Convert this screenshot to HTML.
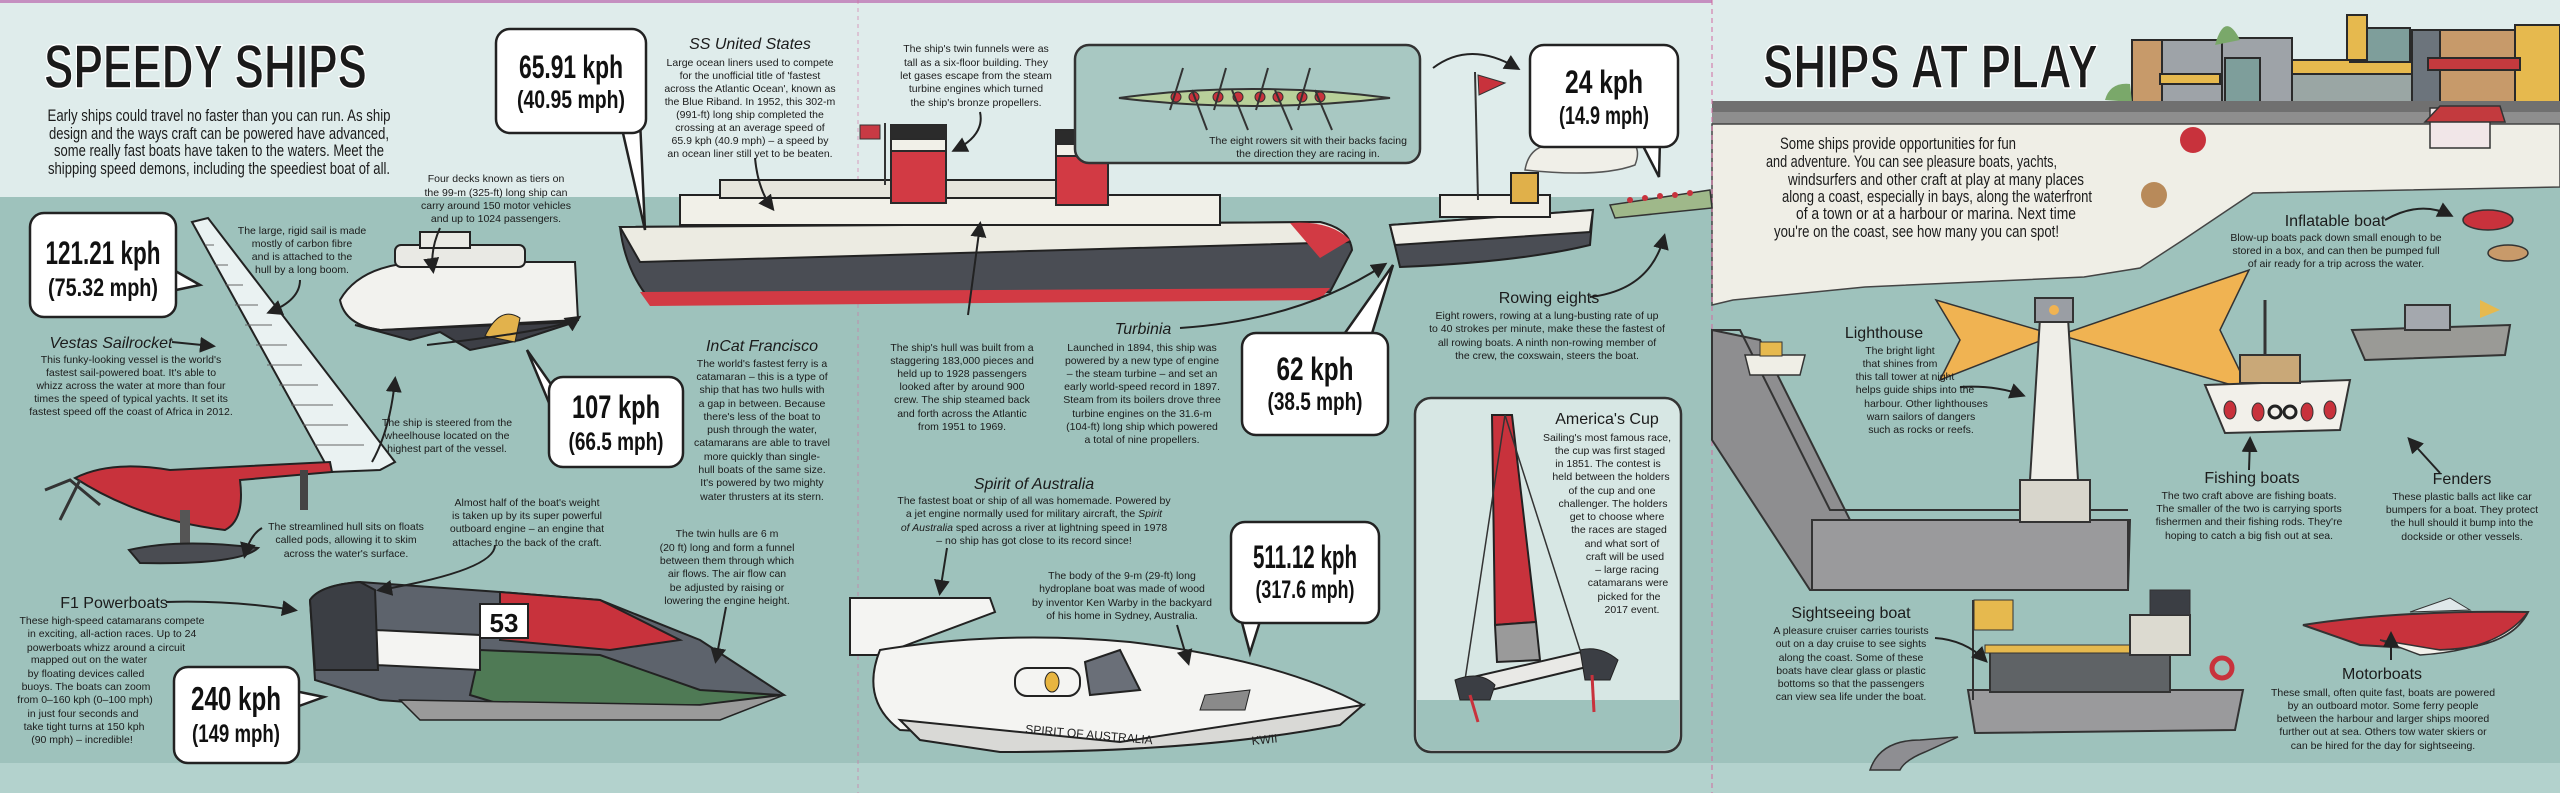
<!DOCTYPE html>
<html><head><meta charset="utf-8"><style>
html,body{margin:0;padding:0;background:#dfeceb;}
svg{display:block}
.t{font-family:"Liberation Sans Narrow","Liberation Sans",sans-serif;font-size:10.5px;fill:#1b1b1b;text-anchor:middle}
.h{font-family:"Liberation Sans Narrow","Liberation Sans",sans-serif;font-size:16px;fill:#1b1b1b;text-anchor:middle;font-style:italic}
.hn{font-family:"Liberation Sans Narrow","Liberation Sans",sans-serif;font-size:16px;fill:#1b1b1b;text-anchor:middle}
.b{font-family:"Liberation Sans Narrow","Liberation Sans",sans-serif;font-weight:bold;fill:#111;text-anchor:middle}
.i{font-family:"Liberation Sans Narrow","Liberation Sans",sans-serif;font-size:17px;fill:#1b1b1b}
.ttl{font-family:"Liberation Sans Narrow","Liberation Sans",sans-serif;font-weight:bold;font-size:62px;fill:#1a1a1a;stroke:#fff;stroke-width:1.5}
.bub{fill:#fff;stroke:#222;stroke-width:2.5}
.ln{fill:none;stroke:#222;stroke-width:2}
.s{stroke:#2a2a2a;stroke-width:2}
</style></head><body>
<svg width="2560" height="793" viewBox="0 0 2560 793" xmlns="http://www.w3.org/2000/svg">
<defs>
<marker id="ah" markerWidth="8" markerHeight="8" refX="6" refY="4" orient="auto"><path d="M0,0 L8,4 L0,8 Z" fill="#222"/></marker>
</defs>
<rect x="0" y="0" width="2560" height="793" fill="#9ec2bc"/>
<rect x="0" y="0" width="1712" height="197" fill="#dfeceb"/>
<rect x="0" y="763" width="1712" height="30" fill="#b3d2cd"/>
<rect x="1712" y="763" width="848" height="30" fill="#b3d2cd"/>
<rect x="0" y="0" width="2560" height="3" fill="#c58fc0"/>
<rect x="1712" y="0" width="848" height="102" fill="#dfeceb"/>
<g class="s">
<rect x="2132" y="40" width="30" height="62" fill="#c79a6a"/>
<rect x="2162" y="40" width="60" height="62" fill="#9ea3a8"/>
<rect x="2222" y="38" width="70" height="64" fill="#9ea3a8"/>
<rect x="2225" y="58" width="35" height="44" fill="#7e9e9b"/>
<rect x="2292" y="60" width="120" height="42" fill="#9aa6a4"/>
<rect x="2292" y="60" width="120" height="14" fill="#e6b94e"/>
<rect x="2350" y="28" width="60" height="34" fill="#7e9e9b"/>
<rect x="2347" y="15" width="20" height="45" fill="#e6b94e"/>
<rect x="2412" y="30" width="28" height="72" fill="#6c747c"/>
<rect x="2440" y="30" width="75" height="72" fill="#c79a6a"/>
<rect x="2515" y="25" width="45" height="77" fill="#e6b94e"/>
<rect x="2160" y="74" width="60" height="10" fill="#e6b94e"/>
<rect x="2428" y="58" width="92" height="12" fill="#c33a3e"/>
</g>
<path d="M2105,100 Q2110,82 2130,84 L2132,102 Z" fill="#7aa86a"/>
<path d="M2215,45 Q2225,10 2240,40 Z" fill="#7aa86a"/>
<rect x="1712" y="101" width="848" height="11" fill="#707070"/>
<rect x="1712" y="112" width="848" height="12" fill="#8e8e8e"/>
<path d="M1712,124 L2560,124 L2560,187 L2253,193 L2183,240 L2140,268 L2084,277 L1865,287 L1733,300 L1712,305 Z" fill="#efeee6" stroke="#444" stroke-width="1.5"/>
<rect x="2430" y="108" width="60" height="40" fill="#f1e6e8" stroke="#333" stroke-width="1.5"/>
<path d="M2425,122 L2440,106 L2500,106 L2505,122 Z" fill="#c33a3e" stroke="#333" stroke-width="1.5"/>
<circle cx="2193" cy="140" r="13" fill="#c8323c"/>
<circle cx="2154" cy="195" r="13" fill="#b88a5a"/>
<line x1="1712" y1="0" x2="1712" y2="793" stroke="#d26aa0" stroke-width="1" stroke-dasharray="5,4"/>
<line x1="858" y1="0" x2="858" y2="793" stroke="#d26aa0" stroke-width="1" stroke-dasharray="4,4" opacity="0.6"/>

<text class="ttl" x="44" y="88" textLength="323" lengthAdjust="spacingAndGlyphs">SPEEDY SHIPS</text>
<text class="ttl" x="1763" y="88" textLength="335" lengthAdjust="spacingAndGlyphs">SHIPS AT PLAY</text>

<g class="i">
<text x="219" y="121" textLength="343" lengthAdjust="spacingAndGlyphs" text-anchor="middle">Early ships could travel no faster than you can run. As ship</text>
<text x="219" y="139" textLength="340" lengthAdjust="spacingAndGlyphs" text-anchor="middle">design and the ways craft can be powered have advanced,</text>
<text x="219" y="156" textLength="330" lengthAdjust="spacingAndGlyphs" text-anchor="middle">some really fast boats have taken to the waters. Meet the</text>
<text x="219" y="174" textLength="342" lengthAdjust="spacingAndGlyphs" text-anchor="middle">shipping speed demons, including the speediest boat of all.</text>
</g>
<g class="i">
<text x="1780" y="149" textLength="236" lengthAdjust="spacingAndGlyphs">Some ships provide opportunities for fun</text>
<text x="1766" y="167" textLength="291" lengthAdjust="spacingAndGlyphs">and adventure. You can see pleasure boats, yachts,</text>
<text x="1788" y="185" textLength="296" lengthAdjust="spacingAndGlyphs">windsurfers and other craft at play at many places</text>
<text x="1782" y="202" textLength="310" lengthAdjust="spacingAndGlyphs">along a coast, especially in bays, along the waterfront</text>
<text x="1796" y="219" textLength="280" lengthAdjust="spacingAndGlyphs">of a town or at a harbour or marina. Next time</text>
<text x="1774" y="237" textLength="285" lengthAdjust="spacingAndGlyphs">you're on the coast, see how many you can spot!</text>
</g>

<path d="M620,227 L1320,222 Q1350,230 1352,250 L1330,292 L650,300 Q625,270 620,227 Z" fill="#4a4d54" stroke="#222" stroke-width="2"/>
<path d="M640,292 L1330,288 L1320,300 L650,306 Z" fill="#d23a44"/>
<path d="M620,227 L1320,222 Q1345,228 1350,242 L640,262 Z" fill="#ecebe2" stroke="#222" stroke-width="2"/>
<rect x="680" y="195" width="540" height="30" fill="#f1f0e8" stroke="#222" stroke-width="2"/>
<rect x="720" y="180" width="380" height="18" fill="#e6e5dc" stroke="#222" stroke-width="2"/>
<path d="M1290,223 Q1330,220 1350,240 L1320,258 Z" fill="#d23a44"/>
<g class="s">
<rect x="891" y="135" width="55" height="68" fill="#d23a44"/>
<rect x="891" y="125" width="55" height="14" fill="#2b2b2b"/>
<rect x="891" y="139" width="55" height="12" fill="#f1f0e8"/>
<rect x="1056" y="140" width="52" height="65" fill="#d23a44"/>
<rect x="1056" y="130" width="52" height="14" fill="#2b2b2b"/>
<rect x="1056" y="144" width="52" height="12" fill="#f1f0e8"/>
</g>
<line x1="885" y1="123" x2="885" y2="185" stroke="#333" stroke-width="2"/>
<rect x="860" y="125" width="20" height="14" fill="#c83a44" stroke="#333"/>

<rect x="1075" y="45" width="345" height="118" rx="14" fill="#a8c8c2" stroke="#333" stroke-width="2.5"/>
<path d="M1119,98 Q1250,80 1390,98 Q1250,114 1119,98 Z" fill="#b8d09a" stroke="#333" stroke-width="2"/>
<g fill="#c8323c" stroke="#333" stroke-width="1">
<circle cx="1176" cy="97" r="5"/><circle cx="1194" cy="97" r="5"/><circle cx="1218" cy="97" r="5"/><circle cx="1238" cy="97" r="5"/><circle cx="1260" cy="97" r="5"/><circle cx="1278" cy="97" r="5"/><circle cx="1302" cy="97" r="5"/><circle cx="1320" cy="97" r="5"/>
</g>
<g stroke="#333" stroke-width="2"><line x1="1183" y1="68" x2="1170" y2="110"/><line x1="1226" y1="68" x2="1214" y2="110"/><line x1="1268" y1="68" x2="1256" y2="110"/><line x1="1310" y1="68" x2="1298" y2="110"/><line x1="1192" y1="90" x2="1207" y2="130"/><line x1="1232" y1="90" x2="1248" y2="130"/><line x1="1275" y1="90" x2="1292" y2="130"/><line x1="1315" y1="90" x2="1332" y2="130"/></g>
<text class="t" x="1308" y="144">The eight rowers sit with their backs facing</text>
<text class="t" x="1308" y="157">the direction they are racing in.</text>

<path d="M1390,225 L1593,210 L1590,245 Q1520,262 1400,267 Z" fill="#4a4d54" stroke="#222" stroke-width="2"/>
<path d="M1390,225 L1593,210 L1590,232 L1395,245 Z" fill="#f0efe8" stroke="#222" stroke-width="2"/>
<rect x="1440" y="195" width="110" height="22" fill="#f0efe8" stroke="#222" stroke-width="2"/>
<rect x="1511" y="173" width="27" height="30" fill="#e0b04a" stroke="#222" stroke-width="2"/>
<line x1="1475" y1="72" x2="1478" y2="200" stroke="#333" stroke-width="2"/>
<path d="M1478,75 L1505,83 L1479,95 Z" fill="#c8323c" stroke="#333"/>
<path d="M1525,170 Q1530,140 1565,145 Q1580,125 1615,135 Q1645,140 1635,165 Q1600,178 1525,170 Z" fill="#f0efe8" stroke="#555" stroke-width="1.5"/>
<path d="M1610,205 L1710,190 L1712,208 L1615,218 Z" fill="#9fb88a" stroke="#333" stroke-width="1.5"/>
<g fill="#c8323c"><circle cx="1630" cy="200" r="3"/><circle cx="1645" cy="198" r="3"/><circle cx="1660" cy="196" r="3"/><circle cx="1675" cy="195" r="3"/><circle cx="1690" cy="193" r="3"/></g>

<path d="M340,300 Q360,265 420,262 L575,262 L578,320 L380,330 Q345,325 340,300 Z" fill="#f2f2ee" stroke="#222" stroke-width="2"/>
<path d="M355,325 L410,340 L440,332 L470,350 L520,340 L575,322 L380,330 Z" fill="#3d3f46" stroke="#222" stroke-width="2"/>
<path d="M485,336 Q500,305 520,318 L515,342 Z" fill="#e2b24c" stroke="#222"/>
<rect x="395" y="245" width="130" height="22" rx="6" fill="#e9e9e4" stroke="#222" stroke-width="2"/>
<rect x="420" y="232" width="50" height="16" fill="#e9e9e4" stroke="#222" stroke-width="2"/>

<path d="M192,222 L208,218 L395,462 L380,470 L330,472 Z" fill="#eaf2f2" stroke="#222" stroke-width="2"/>
<g stroke="#666" stroke-width="1"><line x1="205" y1="245" x2="214" y2="245"/><line x1="215" y1="265" x2="228" y2="265"/><line x1="225" y1="285" x2="243" y2="285"/><line x1="235" y1="305" x2="258" y2="305"/><line x1="245" y1="325" x2="272" y2="325"/><line x1="256" y1="345" x2="287" y2="345"/><line x1="267" y1="365" x2="302" y2="365"/><line x1="279" y1="385" x2="318" y2="385"/><line x1="291" y1="405" x2="333" y2="405"/><line x1="303" y1="425" x2="348" y2="425"/><line x1="315" y1="445" x2="364" y2="445"/></g>
<path d="M75,478 Q110,460 170,470 L330,462 L332,472 L240,480 Q245,520 225,530 Q140,520 75,478 Z" fill="#c8323c" stroke="#222" stroke-width="2"/>
<path d="M45,490 L70,480 L100,505 M80,480 L60,520" stroke="#333" stroke-width="3" fill="none"/>
<rect x="180" y="510" width="10" height="40" fill="#555"/>
<rect x="300" y="470" width="8" height="40" fill="#444"/>
<path d="M129,550 Q180,538 258,548 Q240,565 140,563 Z" fill="#4a4c52" stroke="#222" stroke-width="2"/>

<path d="M310,600 Q320,585 360,582 L500,592 L600,600 L700,640 L784,695 L700,705 L520,710 L380,700 L315,680 Z" fill="#5d636c" stroke="#222" stroke-width="2"/>
<path d="M500,592 L600,600 L680,640 L610,650 L500,640 Z" fill="#c8323c" stroke="#222" stroke-width="2"/>
<path d="M480,650 L600,655 L700,690 L780,695 L700,705 L520,710 L470,695 Z" fill="#4f7a55" stroke="#222" stroke-width="2"/>
<path d="M375,630 L480,635 L480,670 L375,665 Z" fill="#f4f4f2" stroke="#222" stroke-width="2"/>
<path d="M310,600 Q320,585 360,582 L375,590 L378,670 L315,670 Z" fill="#3b3e44" stroke="#222" stroke-width="2"/>
<rect x="480" y="604" width="48" height="34" fill="#fff" stroke="#222" stroke-width="2"/>
<text class="b" x="504" y="632" font-size="26">53</text>
<path d="M400,700 L700,705 L784,695 L720,720 L420,720 Z" fill="#9a9a9a" stroke="#222" stroke-width="1.5"/>

<path d="M850,598 L990,598 L995,612 L880,655 L850,655 Z" fill="#f4f4f2" stroke="#222" stroke-width="2"/>
<path d="M880,650 Q1000,630 1130,642 Q1280,660 1363,705 Q1280,735 1120,742 L900,730 Q860,700 880,650 Z" fill="#f4f4f2" stroke="#222" stroke-width="2"/>
<path d="M900,720 L1120,742 L1363,705 L1340,725 Q1200,752 1000,752 L920,740 Z" fill="#d9d9d6" stroke="#222" stroke-width="2"/>
<rect x="1015" y="668" width="65" height="28" rx="12" fill="#f4f4f2" stroke="#222" stroke-width="2"/>
<ellipse cx="1052" cy="682" rx="7" ry="10" fill="#e8b540" stroke="#222"/>
<path d="M1085,662 L1120,650 L1140,690 L1090,695 Z" fill="#6a6f78" stroke="#222" stroke-width="2"/>
<path d="M1205,695 L1250,690 L1245,710 L1200,710 Z" fill="#8a8a8a" stroke="#222"/>
<text x="1025" y="733" font-family="Liberation Sans" font-size="12" fill="#222" transform="rotate(5 1025 733)">SPIRIT OF AUSTRALIA</text>
<text x="1252" y="745" font-family="Liberation Sans" font-size="12" fill="#222" transform="rotate(-6 1252 745)">KWII</text>

<rect x="1415" y="398" width="266" height="354" rx="16" fill="#d7e7e4" stroke="#333" stroke-width="2.5"/>
<path d="M1417,700 L1679,700 L1679,736 Q1679,750 1665,750 L1431,750 Q1417,750 1417,736 Z" fill="#9ec2bc"/>
<path d="M1492,415 L1512,415 L1536,622 L1495,625 Z" fill="#c8323c" stroke="#222" stroke-width="2"/>
<path d="M1495,625 L1536,622 L1540,660 L1497,662 Z" fill="#9a9a9a" stroke="#222" stroke-width="2"/>
<line x1="1505" y1="415" x2="1465" y2="680" stroke="#333" stroke-width="1.5"/>
<line x1="1505" y1="415" x2="1580" y2="650" stroke="#333" stroke-width="1.5"/>
<path d="M1460,680 L1590,650 L1595,665 L1470,695 Z" fill="#e9e9e6" stroke="#222" stroke-width="2"/>
<path d="M1455,680 Q1480,670 1495,685 L1490,700 L1460,700 Z" fill="#3b3e44" stroke="#222"/>
<path d="M1580,650 Q1600,645 1618,660 L1610,680 L1585,680 Z" fill="#3b3e44" stroke="#222"/>
<line x1="1470" y1="695" x2="1478" y2="722" stroke="#c8323c" stroke-width="3"/>
<line x1="1592" y1="675" x2="1594" y2="712" stroke="#c8323c" stroke-width="3"/>

<path d="M2055,335 L1936,300 L1960,340 L1940,380 Z" fill="#f0b352" stroke="#333" stroke-width="1.5"/>
<path d="M2060,335 L2249,270 L2220,330 L2249,390 Z" fill="#f0b352" stroke="#333" stroke-width="1.5"/>
<path d="M1712,330 L1760,340 L1850,520 L2130,520 L2128,590 L1810,590 L1712,440 Z" fill="#8e8e90" stroke="#333" stroke-width="2"/>
<path d="M1712,330 L1740,330 L1830,510 L2128,510" fill="none" stroke="#333" stroke-width="2"/>
<rect x="1812" y="520" width="316" height="70" fill="#9a9a9c" stroke="#333" stroke-width="2"/>
<path d="M2040,318 L2068,318 L2078,480 L2030,480 Z" fill="#efeee8" stroke="#333" stroke-width="2"/>
<rect x="2035" y="298" width="38" height="24" fill="#9a9ea4" stroke="#333" stroke-width="2"/>
<circle cx="2054" cy="310" r="5" fill="#f0b352"/>
<rect x="2020" y="480" width="70" height="42" fill="#d8d6cc" stroke="#333" stroke-width="2"/>
<path d="M1745,355 L1805,355 L1800,375 L1750,375 Z" fill="#efeee6" stroke="#333" stroke-width="1.5"/>
<rect x="1760" y="342" width="22" height="14" fill="#e6b94e" stroke="#333"/>

<path d="M2205,385 L2350,380 L2340,430 L2225,433 Z" fill="#f2f0ea" stroke="#333" stroke-width="2"/>
<rect x="2240" y="355" width="60" height="28" fill="#c9a878" stroke="#333" stroke-width="2"/>
<line x1="2265" y1="300" x2="2265" y2="356" stroke="#333" stroke-width="3"/>
<g fill="#c8323c" stroke="#333"><ellipse cx="2230" cy="410" rx="6" ry="9"/><ellipse cx="2258" cy="412" rx="6" ry="9"/><ellipse cx="2307" cy="412" rx="6" ry="9"/><ellipse cx="2330" cy="410" rx="6" ry="9"/></g>
<g fill="none" stroke="#222" stroke-width="3"><circle cx="2275" cy="412" r="6"/><circle cx="2290" cy="412" r="6"/></g>
<path d="M2352,330 L2510,325 L2505,355 L2365,360 Z" fill="#9a9a96" stroke="#333" stroke-width="2"/>
<rect x="2405" y="305" width="45" height="25" fill="#a4a8ae" stroke="#333" stroke-width="2"/>
<path d="M2480,300 L2500,310 L2480,318 Z" fill="#e6b94e"/>
<ellipse cx="2488" cy="220" rx="25" ry="10" fill="#c8323c" stroke="#333" stroke-width="1.5"/>
<ellipse cx="2508" cy="253" rx="20" ry="8" fill="#c89a6a" stroke="#333" stroke-width="1.5"/>

<path d="M1968,690 L2243,690 L2235,730 L1975,733 Z" fill="#9a9a9c" stroke="#333" stroke-width="2"/>
<rect x="1990" y="650" width="180" height="42" fill="#5f6366" stroke="#333" stroke-width="2"/>
<rect x="1985" y="645" width="190" height="8" fill="#e6b94e" stroke="#333"/>
<rect x="2130" y="615" width="60" height="40" fill="#dcdad0" stroke="#333" stroke-width="2"/>
<rect x="2150" y="590" width="40" height="25" fill="#3b3e44" stroke="#333"/>
<circle cx="2222" cy="668" r="10" fill="none" stroke="#c8323c" stroke-width="5"/>
<line x1="1973" y1="600" x2="1973" y2="700" stroke="#333" stroke-width="2"/>
<path d="M1974,600 L2013,600 L2013,630 L1974,630 Z" fill="#e6b94e" stroke="#333"/>
<path d="M2303,625 Q2400,610 2528,612 Q2510,648 2440,650 L2360,645 Z" fill="#c8323c" stroke="#333" stroke-width="2"/>
<path d="M2380,640 L2440,650 Q2510,648 2528,612 Q2500,650 2420,655 Z" fill="#f2f0ea" stroke="#333" stroke-width="1.5"/>
<path d="M2410,612 L2450,598 L2470,610 Z" fill="#dfe8ea" stroke="#333"/>
<path d="M1870,770 Q1880,740 1920,740 L1958,737 L1925,752 Q1905,760 1900,770 Z" fill="#8e8e92" stroke="#333" stroke-width="1.5"/>

<!-- bubbles -->
<polygon class="bub" points="620,120 640,120 645,230"/>
<rect class="bub" x="496" y="29" width="150" height="104" rx="14"/>
<text class="b" x="571" y="78" font-size="32" textLength="104" lengthAdjust="spacingAndGlyphs">65.91 kph</text>
<text class="b" x="571" y="108" font-size="25" textLength="108" lengthAdjust="spacingAndGlyphs">(40.95 mph)</text>

<polygon class="bub" points="170,268 176,290 200,285"/>
<rect class="bub" x="30" y="213" width="146" height="104" rx="14"/>
<text class="b" x="103" y="264" font-size="32" textLength="115" lengthAdjust="spacingAndGlyphs">121.21 kph</text>
<text class="b" x="103" y="296" font-size="25" textLength="110" lengthAdjust="spacingAndGlyphs">(75.32 mph)</text>

<polygon class="bub" points="555,390 552,410 527,350"/>
<rect class="bub" x="549" y="377" width="134" height="90" rx="14"/>
<text class="b" x="616" y="418" font-size="32" textLength="88" lengthAdjust="spacingAndGlyphs">107 kph</text>
<text class="b" x="616" y="450" font-size="25" textLength="95" lengthAdjust="spacingAndGlyphs">(66.5 mph)</text>

<polygon class="bub" points="290,690 299,706 324,697"/>
<rect class="bub" x="174" y="667" width="125" height="96" rx="14"/>
<text class="b" x="236" y="710" font-size="33" textLength="90" lengthAdjust="spacingAndGlyphs">240 kph</text>
<text class="b" x="236" y="742" font-size="25" textLength="88" lengthAdjust="spacingAndGlyphs">(149 mph)</text>

<polygon class="bub" points="1640,140 1660,140 1659,177"/>
<rect class="bub" x="1530" y="45" width="148" height="102" rx="14"/>
<text class="b" x="1604" y="93" font-size="32" textLength="78" lengthAdjust="spacingAndGlyphs">24 kph</text>
<text class="b" x="1604" y="124" font-size="25" textLength="90" lengthAdjust="spacingAndGlyphs">(14.9 mph)</text>

<polygon class="bub" points="1340,340 1370,340 1393,265"/>
<rect class="bub" x="1242" y="333" width="146" height="102" rx="14"/>
<text class="b" x="1315" y="380" font-size="32" textLength="77" lengthAdjust="spacingAndGlyphs">62 kph</text>
<text class="b" x="1315" y="410" font-size="25" textLength="95" lengthAdjust="spacingAndGlyphs">(38.5 mph)</text>

<polygon class="bub" points="1240,615 1262,615 1250,653"/>
<rect class="bub" x="1231" y="522" width="148" height="101" rx="14"/>
<text class="b" x="1305" y="568" font-size="32" textLength="104" lengthAdjust="spacingAndGlyphs">511.12 kph</text>
<text class="b" x="1305" y="598" font-size="25" textLength="99" lengthAdjust="spacingAndGlyphs">(317.6 mph)</text>

<g class="ln" marker-end="url(#ah)">
<path d="M755,158 Q758,190 772,208"/>
<path d="M440,228 Q430,250 433,270"/>
<path d="M300,280 Q300,300 270,312"/>
<path d="M172,342 L212,346"/>
<path d="M372,462 Q390,430 395,380"/>
<path d="M427,345 Q560,330 578,318"/>
<path d="M262,528 Q250,535 245,555"/>
<path d="M495,545 Q495,570 380,590"/>
<path d="M166,602 Q230,600 294,610"/>
<path d="M726,607 L716,660"/>
<path d="M980,112 Q985,135 955,150"/>
<path d="M968,315 L980,225"/>
<path d="M1180,328 Q1300,320 1384,265"/>
<path d="M1590,297 Q1650,290 1664,237"/>
<path d="M1433,68 Q1470,40 1517,68"/>
<path d="M947,548 L940,592"/>
<path d="M1177,625 L1188,662"/>
<path d="M2385,220 Q2420,200 2450,215"/>
<path d="M1960,387 Q1995,385 2022,395"/>
<path d="M1935,638 Q1965,640 1985,660"/>
<path d="M2249,470 L2250,440"/>
<path d="M2440,473 L2410,440"/>
<path d="M2391,660 L2391,635"/>
</g>

<text class="h" x="750" y="49">SS United States</text>
<g class="t">
<text x="750" y="66">Large ocean liners used to compete</text>
<text x="750" y="79">for the unofficial title of 'fastest</text>
<text x="750" y="92">across the Atlantic Ocean', known as</text>
<text x="750" y="105">the Blue Riband. In 1952, this 302-m</text>
<text x="750" y="118">(991-ft) long ship completed the</text>
<text x="750" y="131">crossing at an average speed of</text>
<text x="750" y="144">65.9 kph (40.9 mph) – a speed by</text>
<text x="750" y="157">an ocean liner still yet to be beaten.</text>

<text x="496" y="182">Four decks known as tiers on</text>
<text x="496" y="196">the 99-m (325-ft) long ship can</text>
<text x="496" y="209">carry around 150 motor vehicles</text>
<text x="496" y="222">and up to 1024 passengers.</text>

<text x="302" y="234">The large, rigid sail is made</text>
<text x="302" y="247">mostly of carbon fibre</text>
<text x="302" y="260">and is attached to the</text>
<text x="302" y="273">hull by a long boom.</text>

<text x="131" y="363">This funky-looking vessel is the world's</text>
<text x="131" y="376">fastest sail-powered boat. It's able to</text>
<text x="131" y="389">whizz across the water at more than four</text>
<text x="131" y="402">times the speed of typical yachts. It set its</text>
<text x="131" y="415">fastest speed off the coast of Africa in 2012.</text>

<text x="447" y="426">The ship is steered from the</text>
<text x="447" y="439">wheelhouse located on the</text>
<text x="447" y="452">highest part of the vessel.</text>

<text x="762" y="367">The world's fastest ferry is a</text>
<text x="762" y="380">catamaran – this is a type of</text>
<text x="762" y="393">ship that has two hulls with</text>
<text x="762" y="407">a gap in between. Because</text>
<text x="762" y="420">there's less of the boat to</text>
<text x="762" y="433">push through the water,</text>
<text x="762" y="446">catamarans are able to travel</text>
<text x="762" y="460">more quickly than single-</text>
<text x="762" y="473">hull boats of the same size.</text>
<text x="762" y="486">It's powered by two mighty</text>
<text x="762" y="500">water thrusters at its stern.</text>

<text x="346" y="530">The streamlined hull sits on floats</text>
<text x="346" y="543">called pods, allowing it to skim</text>
<text x="346" y="557">across the water's surface.</text>

<text x="527" y="506">Almost half of the boat's weight</text>
<text x="527" y="519">is taken up by its super powerful</text>
<text x="527" y="532">outboard engine – an engine that</text>
<text x="527" y="546">attaches to the back of the craft.</text>

<text x="112" y="624">These high-speed catamarans compete</text>
<text x="112" y="637">in exciting, all-action races. Up to 24</text>
<text x="106" y="651">powerboats whizz around a circuit</text>
<text x="89" y="663">mapped out on the water</text>
<text x="86" y="677">by floating devices called</text>
<text x="86" y="690">buoys. The boats can zoom</text>
<text x="85" y="703">from 0–160 kph (0–100 mph)</text>
<text x="83" y="717">in just four seconds and</text>
<text x="84" y="730">take tight turns at 150 kph</text>
<text x="82" y="743">(90 mph) – incredible!</text>

<text x="727" y="537">The twin hulls are 6 m</text>
<text x="727" y="551">(20 ft) long and form a funnel</text>
<text x="727" y="564">between them through which</text>
<text x="727" y="577">air flows. The air flow can</text>
<text x="727" y="591">be adjusted by raising or</text>
<text x="727" y="604">lowering the engine height.</text>

<text x="976" y="52">The ship's twin funnels were as</text>
<text x="976" y="66">tall as a six-floor building. They</text>
<text x="976" y="79">let gases escape from the steam</text>
<text x="976" y="92">turbine engines which turned</text>
<text x="976" y="106">the ship's bronze propellers.</text>

<text x="962" y="351">The ship's hull was built from a</text>
<text x="962" y="364">staggering 183,000 pieces and</text>
<text x="962" y="377">held up to 1928 passengers</text>
<text x="962" y="390">looked after by around 900</text>
<text x="962" y="403">crew. The ship steamed back</text>
<text x="962" y="417">and forth across the Atlantic</text>
<text x="962" y="430">from 1951 to 1969.</text>

<text x="1142" y="351">Launched in 1894, this ship was</text>
<text x="1142" y="364">powered by a new type of engine</text>
<text x="1142" y="377">– the steam turbine – and set an</text>
<text x="1142" y="390">early world-speed record in 1897.</text>
<text x="1142" y="403">Steam from its boilers drove three</text>
<text x="1142" y="417">turbine engines on the 31.6-m</text>
<text x="1142" y="430">(104-ft) long ship which powered</text>
<text x="1142" y="443">a total of nine propellers.</text>

<text x="1547" y="319">Eight rowers, rowing at a lung-busting rate of up</text>
<text x="1547" y="332">to 40 strokes per minute, make these the fastest of</text>
<text x="1547" y="346">all rowing boats. A ninth non-rowing member of</text>
<text x="1547" y="359">the crew, the coxswain, steers the boat.</text>

<text x="1034" y="504">The fastest boat or ship of all was homemade. Powered by</text>
<text x="1034" y="517">a jet engine normally used for military aircraft, the <tspan font-style="italic">Spirit</tspan></text>
<text x="1034" y="531"><tspan font-style="italic">of Australia</tspan> sped across a river at lightning speed in 1978</text>
<text x="1034" y="544">– no ship has got close to its record since!</text>

<text x="1122" y="579">The body of the 9-m (29-ft) long</text>
<text x="1122" y="592">hydroplane boat was made of wood</text>
<text x="1122" y="606">by inventor Ken Warby in the backyard</text>
<text x="1122" y="619">of his home in Sydney, Australia.</text>

<text x="1607" y="441">Sailing's most famous race,</text>
<text x="1610" y="454">the cup was first staged</text>
<text x="1608" y="467">in 1851. The contest is</text>
<text x="1611" y="480">held between the holders</text>
<text x="1612" y="494">of the cup and one</text>
<text x="1613" y="507">challenger. The holders</text>
<text x="1617" y="520">get to choose where</text>
<text x="1619" y="533">the races are staged</text>
<text x="1622" y="547">and what sort of</text>
<text x="1625" y="560">craft will be used</text>
<text x="1627" y="573">– large racing</text>
<text x="1628" y="586">catamarans were</text>
<text x="1629" y="600">picked for the</text>
<text x="1632" y="613">2017 event.</text>
</g>
<text class="h" x="111" y="348">Vestas Sailrocket</text>
<text class="h" x="762" y="351">InCat Francisco</text>
<text class="hn" x="114" y="608">F1 Powerboats</text>
<text class="h" x="1143" y="334">Turbinia</text>
<text class="hn" x="1549" y="303">Rowing eights</text>
<text class="h" x="1034" y="489">Spirit of Australia</text>
<text class="hn" x="1607" y="424">America's Cup</text>

<text class="hn" x="2335" y="226">Inflatable boat</text>
<text class="hn" x="1884" y="338">Lighthouse</text>
<text class="hn" x="2252" y="483">Fishing boats</text>
<text class="hn" x="2462" y="484">Fenders</text>
<text class="hn" x="1851" y="618">Sightseeing boat</text>
<text class="hn" x="2382" y="679">Motorboats</text>
<g class="t">
<text x="2336" y="241">Blow-up boats pack down small enough to be</text>
<text x="2336" y="254">stored in a box, and can then be pumped full</text>
<text x="2336" y="267">of air ready for a trip across the water.</text>

<text x="1900" y="354">The bright light</text>
<text x="1900" y="367">that shines from</text>
<text x="1905" y="380">this tall tower at night</text>
<text x="1915" y="393">helps guide ships into the</text>
<text x="1926" y="407">harbour. Other lighthouses</text>
<text x="1921" y="420">warn sailors of dangers</text>
<text x="1921" y="433">such as rocks or reefs.</text>

<text x="2249" y="499">The two craft above are fishing boats.</text>
<text x="2249" y="512">The smaller of the two is carrying sports</text>
<text x="2249" y="525">fishermen and their fishing rods. They're</text>
<text x="2249" y="539">hoping to catch a big fish out at sea.</text>

<text x="2462" y="500">These plastic balls act like car</text>
<text x="2462" y="513">bumpers for a boat. They protect</text>
<text x="2462" y="526">the hull should it bump into the</text>
<text x="2462" y="540">dockside or other vessels.</text>

<text x="1851" y="634">A pleasure cruiser carries tourists</text>
<text x="1851" y="647">out on a day cruise to see sights</text>
<text x="1851" y="661">along the coast. Some of these</text>
<text x="1851" y="674">boats have clear glass or plastic</text>
<text x="1851" y="687">bottoms so that the passengers</text>
<text x="1851" y="700">can view sea life under the boat.</text>

<text x="2383" y="696">These small, often quite fast, boats are powered</text>
<text x="2383" y="709">by an outboard motor. Some ferry people</text>
<text x="2383" y="722">between the harbour and larger ships moored</text>
<text x="2383" y="735">further out at sea. Others tow water skiers or</text>
<text x="2383" y="749">can be hired for the day for sightseeing.</text>
</g>
</svg>
</body></html>
